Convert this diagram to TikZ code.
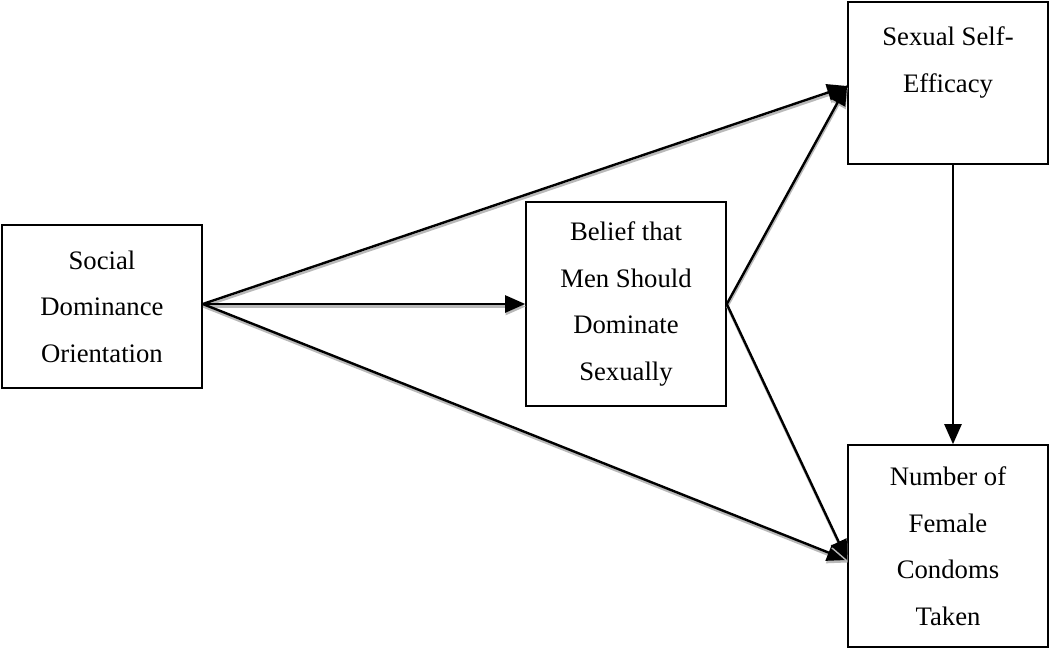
\documentclass[tikz,border=0pt]{standalone}
\usepackage{fontspec}
\setmainfont{Liberation Serif}
\usetikzlibrary{arrows.meta}
\begin{document}
\begin{tikzpicture}[x=1pt,y=-1pt,
  box/.style={draw, line width=1.6pt, minimum width=200pt, align=center, inner sep=0pt,
    font=\fontsize{26.7}{46.5}\selectfont},
  arr/.style={line width=2.4pt, -{Triangle[length=20pt,width=17pt]},
    preaction={draw=gray!55, line width=2.4pt, transform canvas={shift={(0.5pt,-2.5pt)}}}},
  arrv/.style={line width=2.4pt, -{Triangle[length=20pt,width=17pt]}}]
\useasboundingbox (0,0) rectangle (1050,649);
\node[box, minimum height=163pt] (sdo) at (102,306.5) {Social\\Dominance\\Orientation};
\node[box, minimum height=204pt] (bel) at (626,304) {Belief that\\Men Should\\Dominate\\Sexually};
\node[box, minimum height=162pt] (sse) at (948,83) {Sexual Self-\\Efficacy\\ \mbox{}};
\node[box, minimum height=202pt] (num) at (948,546) {Number of\\Female\\Condoms\\Taken};
\draw[arr] ([yshift=2.5pt]sdo.east) -- ([yshift=-3pt]sse.west);
\draw[arr] ([yshift=2.5pt]sdo.east) -- (bel.west);
\draw[arr] ([yshift=2.5pt]sdo.east) -- ([yshift=-14pt]num.west);
\draw[arr] (bel.east) -- ([yshift=-2pt]sse.west);
\draw[arr] (bel.east) -- ([yshift=-14pt]num.west);
\draw[arrv] ([xshift=5pt]sse.south) -- ([xshift=5pt]num.north);
\end{tikzpicture}
\end{document}
